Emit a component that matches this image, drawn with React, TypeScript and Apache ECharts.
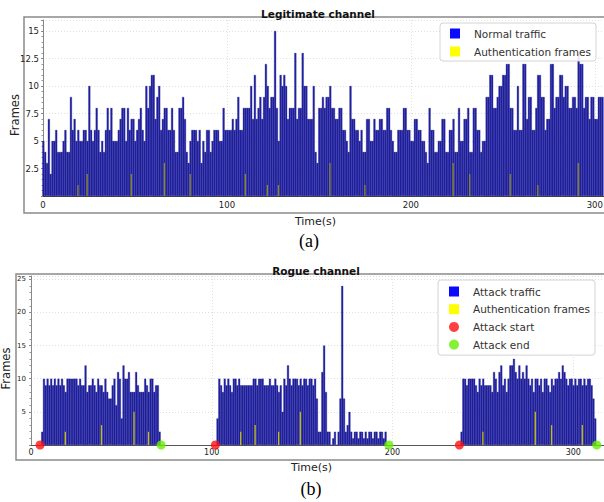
import React, { useEffect, useRef } from "react";
import * as echarts from "echarts";

// ---- Legitimate channel (a): frames per second, t = 0..304 ----
const legitNormal = [
  5,4,3,7,2,5,5,6,4,4, 4,5,6,4,4,9,6,7,5,6, 5,5,6,6,5,10,6,5,6,8, 6,4,5,4,6,8,6,8,5,5,
  5,6,7,8,8,5,8,6,7,7, 5,6,7,8,6,5,10,8,10,11, 11,7,9,10,6,7,8,8,6,6, 8,6,4,
  4,8,8,9,7,4,3,
  5,6,6,6,5,6,3,5,4,6, 6,4,5,6,6,6,5,5,8,6, 6,6,6,7,6,7,9,6,6,8, 8,8,8,10,7,11,7,8,9,7,
  9,12,10,8,9,9,15,8,5,11, 10,11,10,7,8,8,8,13,7,8, 8,13,10,10,7,7,7,10,4,3, 8,8,9,8,9,9,
  10,8,8,7,
  7,8,8,6,6,5,4,10,7,7, 6,6,5,6,4,4,7,7,5,5, 7,6,6,7,7,6,6,8,8,6, 5,4,4,6,6,6,8,8,6,6,
  5,5,7,7,6,6,5,5,4,3, 8,6,6,4,4,5,5,7,7,4, 4,6,6,7,4,4,8,5,5,7, 7,8,4,4,8,8,6,6,4,5,
  5,9,9,11,11,8,8,9,10,10, 11,11,12,12,8,8,6,6,10,6, 6,12,12,7,9,9,6,6,8,11, 11,9,9,6,7,7,12,12,8,9,
  9,11,11,9,10,10,8,8,9,9, 8,13,12,12,8,9,9,7,9,9, 7,7,9,9,9
];
const legitAuthTimes = [19, 24, 48, 66, 80, 110, 122, 128, 156, 175, 223, 232, 254, 269, 291];
const legitAuthValues = [1, 2, 2, 3, 2, 2, 1, 1, 3, 1, 3, 2, 2, 1, 3];

// ---- Rogue channel (b) ----
const rogueBlockStarts = [6, 103, 238];
const rogueBlock1 = [
  2,
  10,9,10,9,10,9,10,9,10,9,
  10,9,8,10,
  10,10,10,10,10,9,
  10,9,9,12,
  8,9,9,10,9,
  8,10,9,9,8,
  10,8,7,7,9,
  10,6,11,10,4,
  12,10,10,11,8,
  8,8,11,9,8,
  8,8,10,9,8,
  10,10,8,9,9,
  2
];
const rogueBlock2 = [
  4,
  10,9,8,10,9, 10,9,8,10,10, 9,10,9,9,9, 9,9,9,9,10, 10,9,10,10,10,
  9,9,9,10,9, 9,10,9,8,9, 5,10,9,12,10, 9,10,10,10,9,
  10,9,10,10,9,10,10,9,10,7,
  2,2,11,15,8,2,2,0,1,2,
  0,2,7,24,7,2,3,5,2,1,
  2,2,1,2,2,1,2,1,2,2,
  1,2,2,1,2,2,1,2
];
const rogueBlock3 = [
  2,
  10,10,9,10,10,10,10,9,8,10,9,10,9,9,9,9,8,
  11,10,8,11,12,9,10,8,10,12,12,13,11,10,12,10,
  11,10,12,10,9, 10,8,10,10,9, 10,8,10,10,9, 8,10,9,10,10,
  11,10,12,11,10, 9,10,10,9,10, 9,10,10,9,10, 9,10,10,9,7,
  4
];
const rogueAuthTimes = [19, 39, 57, 65, 116, 124, 137, 149, 250, 279, 288, 305];
const rogueAuthValues = [2, 3, 5, 2, 2, 3, 2, 5, 2, 5, 3, 3];
const attackStartTimes = [5, 102, 237];
const attackEndTimes = [72, 198, 313];

const FONT = "DejaVu Sans";

function pairs(times: number[], values: number[]) {
  return times.map((t, i) => [t, values[i]]);
}

export default function App() {
  const ref = useRef<HTMLDivElement>(null);
  useEffect(() => {
    if (!ref.current) return;
    const chart = echarts.init(ref.current, undefined, { renderer: "svg" });

    const legitData = legitNormal.map((v, i) => [i, v]);
    const rogueBlocks = [rogueBlock1, rogueBlock2, rogueBlock3];
    const rogueData: number[][] = [];
    rogueBlocks.forEach((blk, b) => blk.forEach((v, i) => rogueData.push([rogueBlockStarts[b] + i, v])));

    const gridLine = { show: true, lineStyle: { color: "#d8d8d8", type: [1, 2] as any, width: 0.8 } };

    chart.setOption({
      animation: false,
      backgroundColor: "#ffffff",
      title: [
        { text: "Legitimate channel", left: 313, top: 3, textAlign: "center",
          textStyle: { fontFamily: FONT, fontWeight: "bold", fontSize: 10.5, color: "#111" } },
        { text: "Rogue channel", left: 311, top: 260, textAlign: "center",
          textStyle: { fontFamily: FONT, fontWeight: "bold", fontSize: 10.5, color: "#111" } },
      ],
      legend: [
        {
          left: 440, top: 23, orient: "vertical",
          padding: [5, 5, 4, 10], itemWidth: 10, itemHeight: 10, itemGap: 7,
          backgroundColor: "rgba(255,255,255,0.9)", borderColor: "#d4d4d4", borderWidth: 1, borderRadius: 3,
          textStyle: { fontFamily: FONT, fontSize: 10.5, color: "#333", padding: [0, 0, 0, 9], lineHeight: 11 },
          data: [
            { name: "Normal traffic", icon: "rect", itemStyle: { color: "#0a0aff", borderWidth: 0 } },
            { name: "Authentication frames", icon: "rect", itemStyle: { color: "#ffff00", borderWidth: 0, opacity: 1 } },
          ],
        },
        {
          left: 438, top: 280, orient: "vertical",
          padding: [6, 5, 5, 11], itemWidth: 10, itemHeight: 10, itemGap: 6.7,
          backgroundColor: "rgba(255,255,255,0.9)", borderColor: "#d4d4d4", borderWidth: 1, borderRadius: 3,
          textStyle: { fontFamily: FONT, fontSize: 10.5, color: "#333", padding: [0, 0, 0, 9], lineHeight: 11 },
          data: [
            { name: "Attack traffic", icon: "rect", itemStyle: { color: "#0a0aff", borderWidth: 0 } },
            { name: "Authentication frames", icon: "rect", itemStyle: { color: "#ffff00", borderWidth: 0, opacity: 1 } },
            { name: "Attack start", icon: "circle", itemStyle: { color: "#ff1010" } },
            { name: "Attack end", icon: "circle", itemStyle: { color: "#66ee00" } },
          ],
        },
      ],
      grid: [
        { left: 43, top: 20, width: 561, height: 176, outerBoundsMode: "none", containLabel: false },
        { left: 31, top: 276, width: 573, height: 169, outerBoundsMode: "none", containLabel: false },
      ],
      xAxis: [
        {
          gridIndex: 0, type: "value", min: 0, max: 305, interval: 100,
          name: "Time(s)", nameLocation: "middle", nameGap: 20, nameMoveOverlap: false,
          nameTextStyle: { fontFamily: FONT, fontSize: 11, color: "#222", padding: [0, 16, 0, 0] },
          axisLine: { show: true, onZero: false, lineStyle: { color: "#444", width: 1 } },
          axisTick: { show: false },
          axisLabel: { fontFamily: FONT, fontSize: 8.5, color: "#222", margin: 4,
            formatter: (v: number) => (v % 100 === 0 ? String(v) : "") },
          splitLine: gridLine,
        },
        {
          gridIndex: 1, type: "value", min: 0, max: 317, interval: 100,
          name: "Time(s)", nameLocation: "middle", nameGap: 17, nameMoveOverlap: false,
          nameTextStyle: { fontFamily: FONT, fontSize: 11, color: "#222", padding: [0, 12, 0, 0] },
          axisLine: { show: true, onZero: false, lineStyle: { color: "#555", width: 1 } },
          axisTick: { show: false },
          axisLabel: { fontFamily: FONT, fontSize: 8, color: "#222", margin: 3,
            formatter: (v: number) => (v % 100 === 0 ? String(v) : "") },
          splitLine: gridLine,
        },
      ],
      yAxis: [
        {
          gridIndex: 0, type: "value", min: 0, max: 16, interval: 2.5,
          name: "Frames", nameLocation: "middle", nameGap: 22, nameMoveOverlap: false,
          nameTextStyle: { fontFamily: FONT, fontSize: 11.5, color: "#222", padding: [0, 14, 0, 0] },
          axisLine: { show: true, lineStyle: { color: "#888", width: 1 } },
          axisTick: { show: true, length: 2, lineStyle: { color: "#888" } },
          minorTick: { show: true, splitNumber: 5, length: 1.5, lineStyle: { color: "#999" } },
          axisLabel: { fontFamily: FONT, fontSize: 8.5, color: "#222", margin: 4,
            formatter: (v: number) => (v === 0 || v > 15.5 ? "" : String(v)) },
          splitLine: gridLine,
        },
        {
          gridIndex: 1, type: "value", min: 0, max: 25.5, interval: 5,
          name: "Frames", nameLocation: "middle", nameGap: 19, nameMoveOverlap: false,
          nameTextStyle: { fontFamily: FONT, fontSize: 11.5, color: "#222", padding: [0, 16, 0, 0] },
          axisLine: { show: true, lineStyle: { color: "#888", width: 1 } },
          axisTick: { show: true, length: 2, lineStyle: { color: "#888" } },
          minorTick: { show: true, splitNumber: 5, length: 1.5, lineStyle: { color: "#999" } },
          axisLabel: { fontFamily: FONT, fontSize: 7, color: "#222", margin: 5,
            formatter: (v: number) => (v === 0 || v > 25.2 ? "" : String(v)) },
          splitLine: gridLine,
        },
      ],
      series: [
        {
          name: "Normal traffic", type: "bar", xAxisIndex: 0, yAxisIndex: 0,
          data: legitData, barWidth: 2.0, barGap: "-100%",
          itemStyle: { color: "#2121a6", borderColor: "#16167e", borderWidth: 0.3 },
        },
        {
          name: "Authentication frames", type: "bar", xAxisIndex: 0, yAxisIndex: 0,
          data: pairs(legitAuthTimes, legitAuthValues), barWidth: 1.3, barGap: "-100%", z: 3,
          itemStyle: { color: "#8c8a24" },
        },
        {
          name: "Attack traffic", type: "bar", xAxisIndex: 1, yAxisIndex: 1,
          data: rogueData, barWidth: 1.95, barGap: "-100%",
          itemStyle: { color: "#2121a6", borderColor: "#16167e", borderWidth: 0.3 },
        },
        {
          name: "Authentication frames", type: "bar", xAxisIndex: 1, yAxisIndex: 1,
          data: pairs(rogueAuthTimes, rogueAuthValues), barWidth: 1.3, barGap: "-100%", z: 3,
          itemStyle: { color: "#c2bc14" },
        },
        {
          name: "Attack start", type: "scatter", xAxisIndex: 1, yAxisIndex: 1, clip: false, z: 5,
          data: attackStartTimes.map((t) => [t, 0]), symbol: "circle", symbolSize: 9,
          itemStyle: { color: "#ff1010" },
        },
        {
          name: "Attack end", type: "scatter", xAxisIndex: 1, yAxisIndex: 1, clip: false, z: 5,
          data: attackEndTimes.map((t) => [t, 0]), symbol: "circle", symbolSize: 9,
          itemStyle: { color: "#66ee00" },
        },
      ],
      graphic: [
        { type: "rect", silent: true, z: 0, shape: { x: 24, y: 17, width: 600, height: 196 },
          style: { fill: "none", stroke: "#8a8a8a", lineWidth: 1.5 } },
        { type: "rect", silent: true, z: 0, shape: { x: 16, y: 274, width: 600, height: 186 },
          style: { fill: "none", stroke: "#8a8a8a", lineWidth: 1.5 } },
        { type: "text", silent: true, x: 309, y: 241,
          style: { text: "(a)", font: "18px 'Liberation Serif', 'Times New Roman', serif", fill: "#000", align: "center", verticalAlign: "middle" } },
        { type: "text", silent: true, x: 311, y: 489,
          style: { text: "(b)", font: "18px 'Liberation Serif', 'Times New Roman', serif", fill: "#000", align: "center", verticalAlign: "middle" } },
      ],
    });
    return () => chart.dispose();
  }, []);
  return (
    <div
      ref={ref}
      style={{ position: "absolute", left: 0, top: 0, width: 604, height: 502, background: "#fff" }}
    />
  );
}
